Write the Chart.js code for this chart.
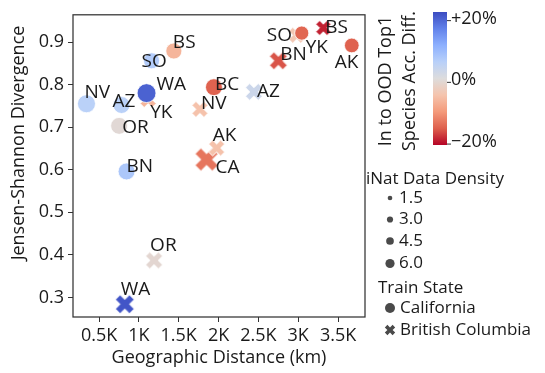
<!DOCTYPE html>
<html><head><meta charset="utf-8">
<script src="https://cdn.jsdelivr.net/npm/chart.js@4"></script>
<style>html,body{margin:0;padding:0;background:#fff}</style>
</head><body>
<canvas id="c" width="545" height="373"></canvas>
<script>
// ---------------- data ----------------
const caLabels   = ['NV','AZ','OR','SO','BS','WA','BC','BN','YK','AK'];
const caDistance = [342, 782, 752, 1159, 1439, 1096, 1942, 845, 3044, 3672];
const caJSD      = [0.755, 0.752, 0.703, 0.856, 0.879, 0.780, 0.794, 0.596, 0.921, 0.892];
const caAccDiff  = [6.4, 6.4, 0.4, 7.3, -6.1, 20.6, -14.7, 8.1, -14.3, -14.7];
const caDensity  = [4.3, 3.9, 3.9, 3.6, 3.6, 4.6, 3.9, 3.9, 2.9, 3.1];

const bcLabels   = ['YK','NV','AZ','CA','AK','BN','BS','SO','OR','WA'];
const bcDistance = [1116, 1766, 2444, 1850, 1976, 2750, 3315, 2981, 1191, 823];
const bcJSD      = [0.765, 0.742, 0.783, 0.624, 0.651, 0.856, 0.933, 0.916, 0.387, 0.284];
const bcAccDiff  = [-6.1, -4.4, 3.8, -13.0, -4.4, -15.6, -18.6, -3.5, 0.0, 21.9];
const bcDensity  = [3.9, 3.9, 4.3, 6.6, 3.9, 4.6, 3.6, 3.9, 4.3, 5.0];

const xTickValues = [500, 1000, 1500, 2000, 2500, 3000, 3500];
const xTickLabels = ['0.5K','1K','1.5K','2K','2.5K','3K','3.5K'];
const yTickValues = [0.3, 0.4, 0.5, 0.6, 0.7, 0.8, 0.9];
const yTickLabels = ['0.3','0.4','0.5','0.6','0.7','0.8','0.9'];
const cbTickValues = [20, 0, -20];
const cbTickLabels = ['+20%', '0%', '\u221220%'];
const densityLegendValues = [1.5, 3.0, 4.5, 6.0];
const densityLegendLabels = ['1.5', '3.0', '4.5', '6.0'];
const trainStates = ['California', 'British Columbia'];

// ---------------- styles ----------------
const FONT = "'Open Sans', sans-serif";
const TXT = '#1a1a1a';
const CB_MIN = -20.3, CB_MAX = 22.8;
const CW = [[59,76,192],[98,130,234],[141,176,254],[184,208,249],[221,220,220],[245,196,173],[244,154,123],[222,96,77],[180,4,38]];
function coolwarm(t){
  t = Math.max(0, Math.min(1, t));
  const p = t*8, i = Math.min(7, Math.floor(p)), f = p - i, a = CW[i], b = CW[i+1];
  return 'rgb(' + [0,1,2].map(k => Math.round(a[k] + (b[k]-a[k])*f)).join(',') + ')';
}
function diffColor(v){ return coolwarm((CB_MAX - v)/(CB_MAX - CB_MIN)); }
function plotRadius(d){ return 3 + 1.4*d; }
function legendRadius(d){ return 1.6 + 0.5*d; }

function xPath(ctx, cx, cy, L){
  const h = L/3;
  const pts = [[-L,-h],[-h,-h],[-h,-L],[h,-L],[h,-h],[L,-h],[L,h],[h,h],[h,L],[-h,L],[-h,h],[-L,h]];
  const c = Math.SQRT1_2;
  ctx.beginPath();
  pts.forEach((p,i) => {
    const x = cx + (p[0]*c - p[1]*c), y = cy + (p[0]*c + p[1]*c);
    i ? ctx.lineTo(x,y) : ctx.moveTo(x,y);
  });
  ctx.closePath();
}
function xImage(color, L, edge){
  const S = Math.ceil(2*(0.95*L + 2)) + 2;
  const cv = document.createElement('canvas');
  cv.width = S; cv.height = S;
  const g = cv.getContext('2d');
  xPath(g, S/2, S/2, L);
  g.fillStyle = color; g.fill();
  if (edge) { g.strokeStyle = '#fff'; g.lineWidth = 1; g.stroke(); }
  return cv;
}

const labelOffsets = {
  California: [[-2,-12],[-9,-4],[3,1],[-10,0],[-1,-9],[10,-10],[1,-4],[0,-6],[4,13],[-17,16]],
  'British Columbia': [[2,12],[1,-7],[3,-1],[9,7],[-4,-13],[2,-7],[2,-1],[-30,-1],[-4,-16],[-4,-16]]
};

const caColors = caAccDiff.map(diffColor);
const bcColors = bcAccDiff.map(diffColor);
const bcImages = bcColors.map((c,i) => xImage(c, plotRadius(bcDensity[i]), true));

const overlay = {
  id: 'overlay',
  afterDatasetsDraw(chart){
    const ctx = chart.ctx;
    ctx.save();
    ctx.font = '19px ' + FONT;
    ctx.fillStyle = TXT;
    ctx.textAlign = 'left';
    ctx.textBaseline = 'middle';
    chart.data.datasets.forEach((ds, di) => {
      const meta = chart.getDatasetMeta(di);
      const offs = labelOffsets[ds.label];
      meta.data.forEach((el, i) => {
        const o = offs[i];
        ctx.fillText(ds.data[i].label, el.x + o[0], el.y + o[1] + 1);
      });
    });
    ctx.restore();
  },
  afterDraw(chart){
    const ctx = chart.ctx, a = chart.chartArea;
    ctx.save();
    // frame
    ctx.strokeStyle = '#333'; ctx.lineWidth = 1.25;
    ctx.strokeRect(a.left, a.top, a.right - a.left, a.bottom - a.top);

    // axis titles
    ctx.fillStyle = TXT;
    ctx.font = '18px ' + FONT;
    ctx.textAlign = 'center'; ctx.textBaseline = 'middle';
    ctx.fillText('Geographic Distance (km)', (a.left + a.right)/2, 358);
    ctx.save();
    ctx.translate(19, 143); ctx.rotate(-Math.PI/2);
    ctx.fillText('Jensen-Shannon Divergence', 0, 0);
    ctx.restore();

    // colorbar
    const cbL = 433, cbW = 14, cbT = 12, cbB = 145;
    const grad = ctx.createLinearGradient(0, cbT, 0, cbB);
    CW.forEach((c,i) => grad.addColorStop(i/8, 'rgb(' + c.join(',') + ')'));
    ctx.fillStyle = grad;
    ctx.fillRect(cbL, cbT, cbW, cbB - cbT);
    ctx.strokeStyle = '#333'; ctx.lineWidth = 1;
    ctx.font = '18px ' + FONT; ctx.fillStyle = TXT;
    ctx.textAlign = 'left'; ctx.textBaseline = 'middle';
    cbTickValues.forEach((v,i) => {
      const y = cbT + (CB_MAX - v)/(CB_MAX - CB_MIN)*(cbB - cbT);
      ctx.beginPath(); ctx.moveTo(cbL + cbW, y); ctx.lineTo(cbL + cbW + 4, y); ctx.stroke();
      ctx.fillText(cbTickLabels[i], cbL + cbW + 4, y - 2);
    });
    ctx.save();
    ctx.translate(386, 81); ctx.rotate(-Math.PI/2);
    ctx.textAlign = 'center';
    ctx.fillText('In to OOD Top1', 0, 0);
    ctx.fillText('Species Acc. Diff.', 0, 24);
    ctx.restore();

    // legend
    ctx.font = '17px ' + FONT; ctx.fillStyle = TXT;
    ctx.textAlign = 'left'; ctx.textBaseline = 'middle';
    ctx.fillText('iNat Data Density', 366, 179);
    const ys = [198, 219.5, 241, 263.5];
    densityLegendValues.forEach((d,i) => {
      ctx.fillStyle = '#4a4a4a';
      ctx.beginPath(); ctx.arc(390, ys[i], legendRadius(d), 0, Math.PI*2); ctx.fill();
      ctx.fillStyle = TXT;
      ctx.fillText(densityLegendLabels[i], 399, ys[i]);
    });
    ctx.fillText('Train State', 378, 288);
    ctx.fillStyle = '#4a4a4a';
    ctx.beginPath(); ctx.arc(390, 308, 5, 0, Math.PI*2); ctx.fill();
    xPath(ctx, 390, 330, 5.5); ctx.fill();
    ctx.fillStyle = TXT;
    ctx.fillText(trainStates[0], 400, 308);
    ctx.fillText(trainStates[1], 400, 330);
    ctx.restore();
  }
};

new Chart(document.getElementById('c'), {
  type: 'scatter',
  data: {
    datasets: [
      {
        label: trainStates[0],
        data: caLabels.map((l,i) => ({x: caDistance[i], y: caJSD[i], label: l})),
        pointStyle: 'circle',
        pointRadius: caDensity.map(plotRadius),
        backgroundColor: caColors,
        borderColor: '#ffffff',
        borderWidth: 0.8
      },
      {
        label: trainStates[1],
        data: bcLabels.map((l,i) => ({x: bcDistance[i], y: bcJSD[i], label: l})),
        pointStyle: bcImages,
        pointRadius: bcDensity.map(plotRadius),
        backgroundColor: bcColors,
        borderColor: bcColors
      }
    ]
  },
  options: {
    responsive: false,
    animation: false,
    events: [],
    layout: { padding: { left: 0, top: 10, right: 180, bottom: 0 } },
    plugins: { legend: { display: false }, tooltip: { enabled: false } },
    scales: {
      x: {
        type: 'linear', min: 173, max: 3838,
        afterBuildTicks: s => { s.ticks = xTickValues.map(v => ({ value: v })); },
        afterFit: s => { s.height = 56; },
        ticks: {
          callback: v => xTickLabels[xTickValues.indexOf(v)],
          font: { family: FONT, size: 18 }, color: TXT, padding: 3,
          maxRotation: 0, autoSkip: false
        },
        grid: { drawOnChartArea: false, drawTicks: true, tickLength: 5, color: '#333', lineWidth: 1 },
        border: { display: false }
      },
      y: {
        type: 'linear', min: 0.254, max: 0.964,
        afterBuildTicks: s => { s.ticks = yTickValues.map(v => ({ value: v })); },
        afterFit: s => { s.width = 73; },
        ticks: {
          callback: v => yTickLabels[yTickValues.findIndex(t => Math.abs(t - v) < 1e-9)],
          font: { family: FONT, size: 18 }, color: TXT, padding: 4, autoSkip: false
        },
        grid: { drawOnChartArea: false, drawTicks: true, tickLength: 5, color: '#333', lineWidth: 1 },
        border: { display: false }
      }
    }
  },
  plugins: [overlay]
});
</script>
</body></html>
